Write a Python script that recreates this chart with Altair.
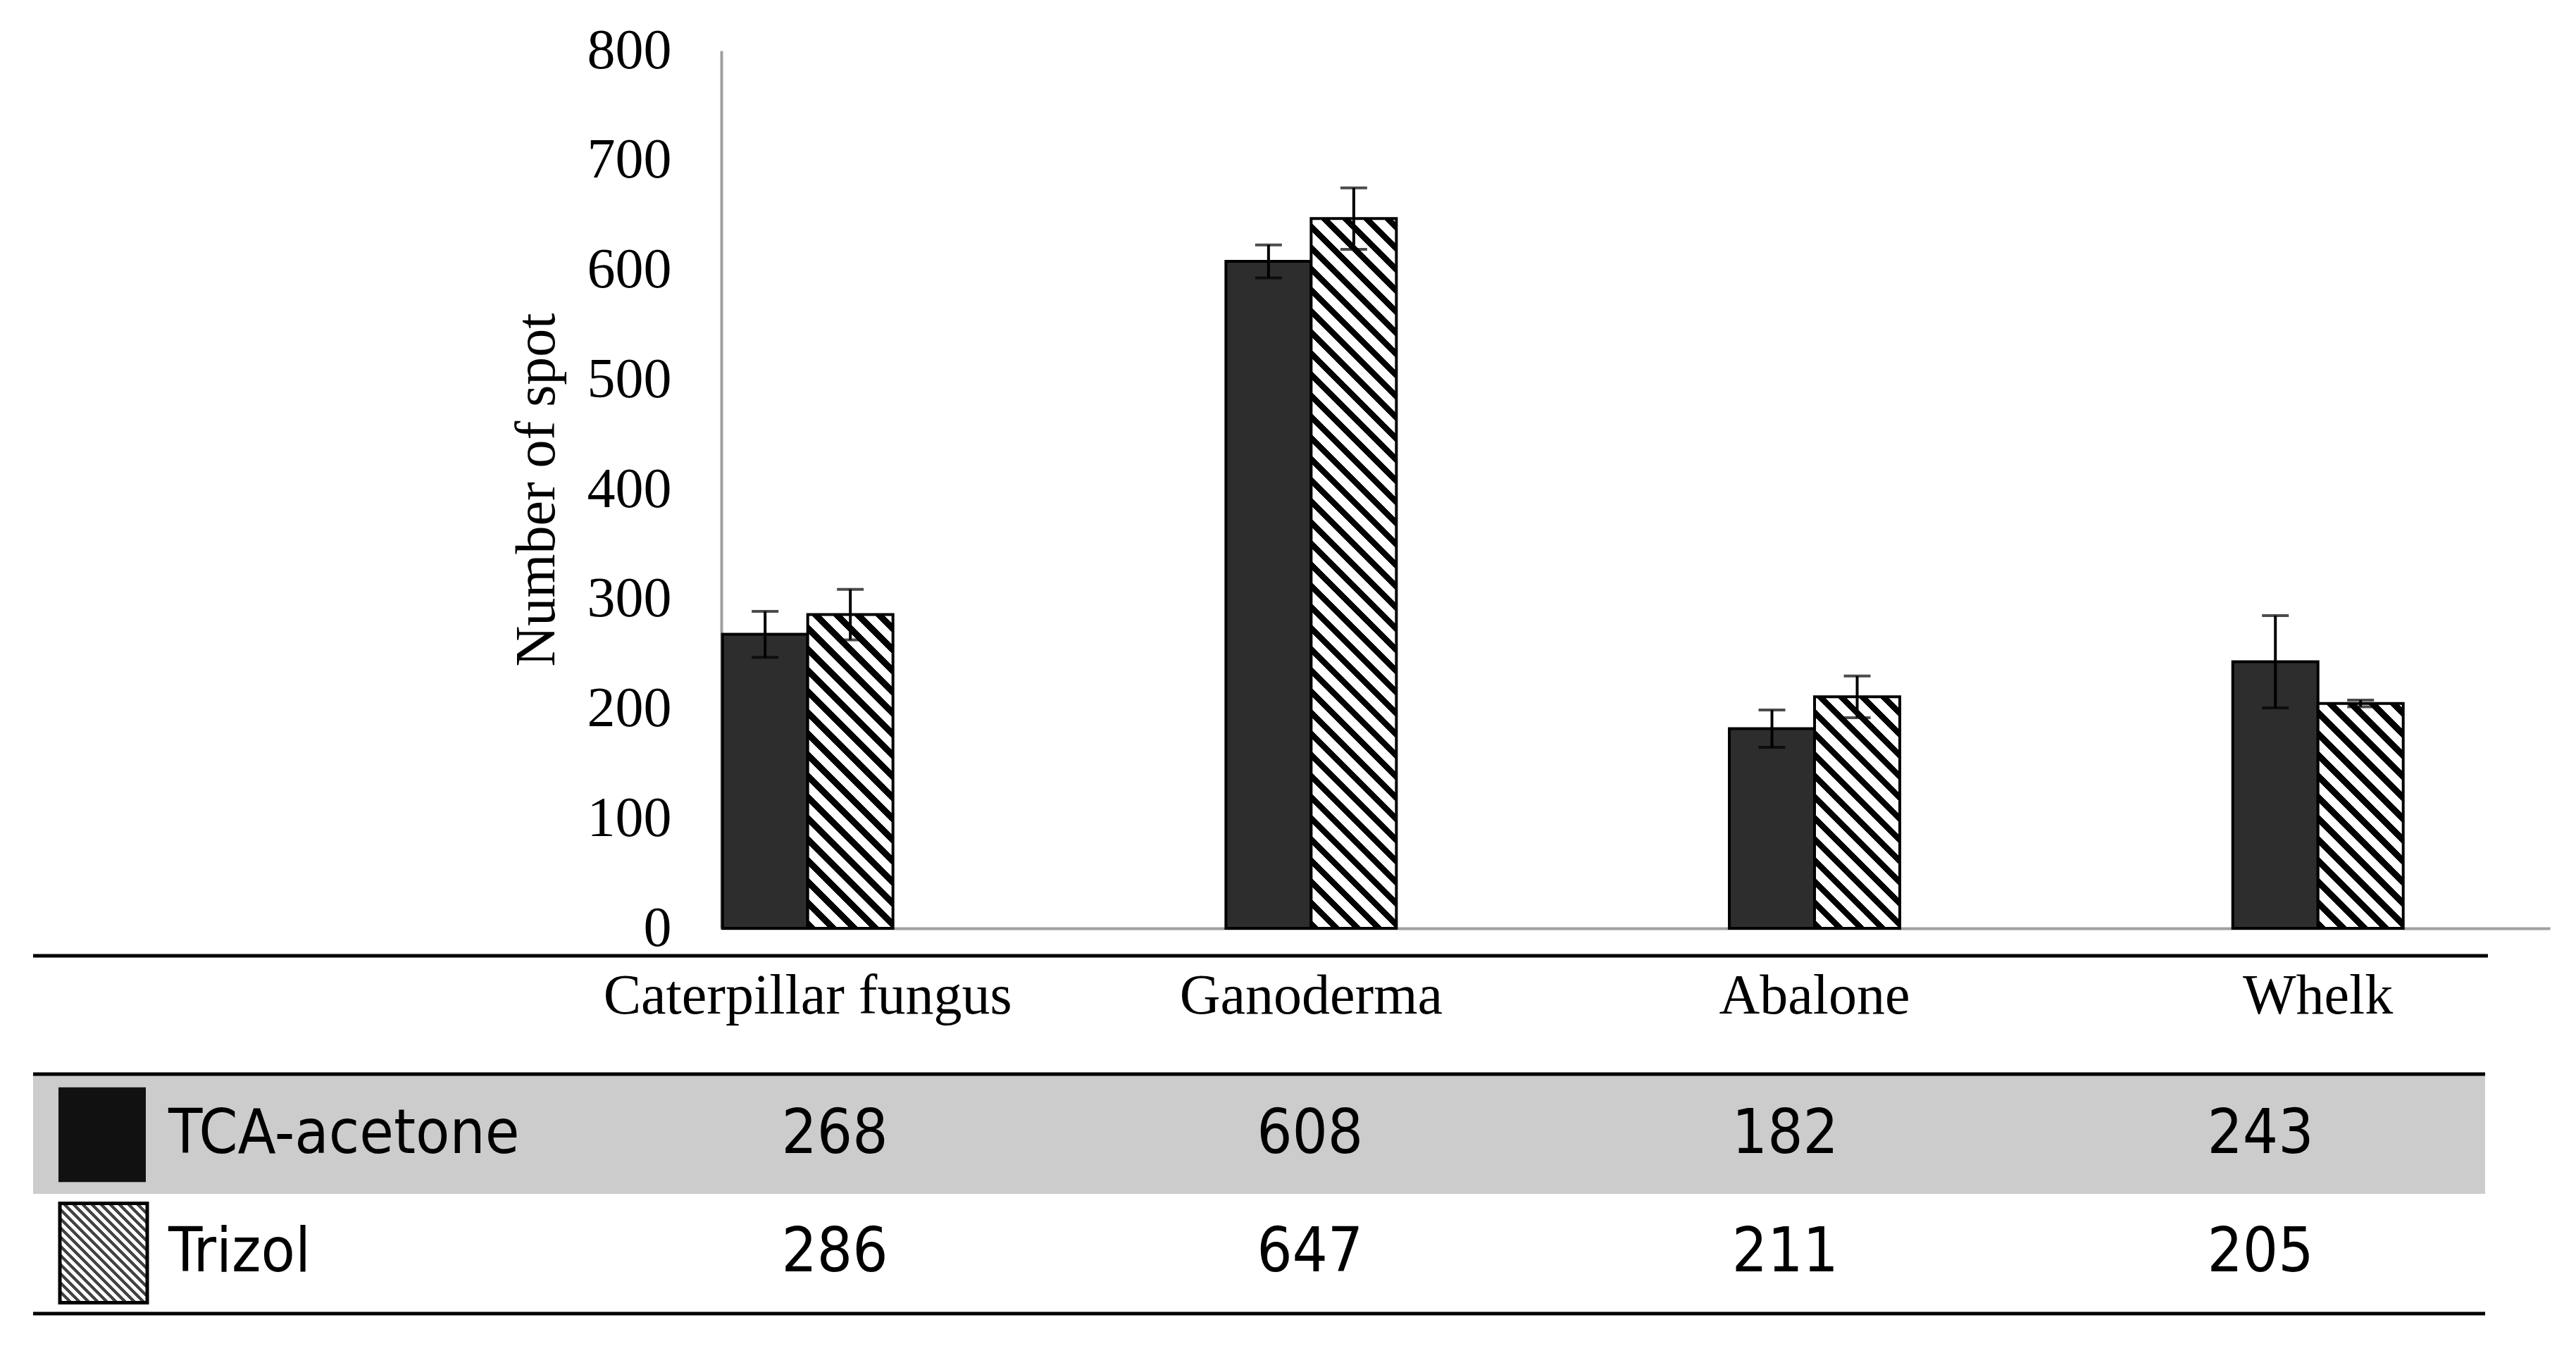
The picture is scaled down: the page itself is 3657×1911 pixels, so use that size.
import math
import altair as alt
import pandas as pd

# ---------------- data ----------------
categories = ["Caterpillar fungus", "Ganoderma", "Abalone", "Whelk"]
series_names = ["TCA-acetone", "Trizol"]
tca_values = [268, 608, 182, 243]
trizol_values = [286, 647, 211, 205]
tca_errors = [21, 15, 17, 42]
trizol_errors = [23, 28, 19, 3]
y_ticks = [0, 100, 200, 300, 400, 500, 600, 700, 800]
y_title = "Number of spot"

# ---------------- layout / style ----------------
W, H = 2596, 1246
Y_MAX = 800
PAD_INNER, PAD_OUTER, ALIGN = 0.6614, 0.1469, 0.008
SERIF = "Liberation Serif, Times New Roman, serif"
SANS = "Liberation Sans Narrow, Arial Narrow, DejaVu Sans Condensed, sans-serif"
AXIS_GRAY = "#a0a0a0"
TABLE_FONT_SIZE = 88

step = W / (len(categories) - PAD_INNER + 2 * PAD_OUTER)
bar_w = step * (1 - PAD_INNER) / 2


def stripe_gradient(w, h, period, frac, color):
    total = w + h
    pt = period / total
    denom = w * w + h * h
    x2 = w * total / denom
    y2 = 1 - h * total / denom
    stops = []
    k = 0
    while k * pt < 1:
        a = k * pt
        b = min(a + frac * pt, 1.0)
        c = min(a + pt, 1.0)
        stops += [
            {"offset": round(a, 6), "color": color},
            {"offset": round(b, 6), "color": color},
            {"offset": round(b, 6), "color": "white"},
            {"offset": round(c, 6), "color": "white"},
        ]
        k += 1
    return {"gradient": "linear", "x1": 0, "y1": 1, "x2": x2, "y2": y2, "stops": stops}


rows = []
for i, c in enumerate(categories):
    rows.append({"category": c, "series": series_names[0], "value": tca_values[i], "err": tca_errors[i]})
    rows.append({"category": c, "series": series_names[1], "value": trizol_values[i], "err": trizol_errors[i]})
df = pd.DataFrame(rows)
df["lo"] = df["value"] - df["err"]
df["hi"] = df["value"] + df["err"]

x_enc = alt.X(
    "category:N",
    sort=categories,
    scale=alt.Scale(domain=categories, paddingInner=PAD_INNER, paddingOuter=PAD_OUTER, align=ALIGN),
    axis=alt.Axis(
        title=None, labelFont=SERIF, labelFontSize=80, labelColor="black", labelAngle=0,
        labelPadding=120, labelBaseline="alphabetic", labelLimit=2000, labelOverlap=False,
        ticks=False, tickSize=0, domainColor=AXIS_GRAY, domainWidth=4, grid=False,
    ),
)
xoff_enc = alt.XOffset("series:N", scale=alt.Scale(domain=series_names, paddingInner=0, paddingOuter=0))
y_scale = alt.Scale(domain=[0, Y_MAX], nice=False)
y_enc = alt.Y(
    "value:Q",
    scale=y_scale,
    axis=alt.Axis(
        values=y_ticks, title=y_title, titleFont=SERIF, titleFontSize=80, titleFontWeight="normal",
        titleColor="black", titlePadding=30, labelFont=SERIF, labelFontSize=80, labelColor="black",
        labelPadding=71, ticks=False, tickSize=0, domainColor=AXIS_GRAY, domainWidth=4, grid=False,
    ),
)

base = alt.Chart(df)

tca_bars = base.transform_filter(alt.datum.series == series_names[0]).mark_bar(
    fill="#2d2d2d", stroke="black", strokeWidth=4
).encode(x=x_enc, xOffset=xoff_enc, y=y_enc)

trizol_bars = []
for c, v in zip(categories, trizol_values):
    grad = stripe_gradient(bar_w, v / Y_MAX * H, 30, 0.42, "black")
    trizol_bars.append(
        base.transform_filter((alt.datum.series == series_names[1]) & (alt.datum.category == c))
        .mark_bar(fill=grad, stroke="black", strokeWidth=4)
        .encode(x=x_enc, xOffset=xoff_enc, y=y_enc)
    )

err_rule = base.mark_rule(color="black", strokeWidth=4).encode(
    x=x_enc, xOffset=xoff_enc, y=alt.Y("lo:Q", scale=y_scale), y2="hi:Q"
)
cap_hi = base.mark_tick(color="black", thickness=4, size=38).encode(
    x=x_enc, xOffset=xoff_enc, y=alt.Y("hi:Q", scale=y_scale)
)
cap_lo = base.mark_tick(color="black", thickness=4, size=38).encode(
    x=x_enc, xOffset=xoff_enc, y=alt.Y("lo:Q", scale=y_scale)
)

bars_layer = alt.layer(tca_bars, *trizol_bars, err_rule, cap_hi, cap_lo)

# ---------------- data table below ----------------
table_x = alt.X("category:N", sort=categories,
                scale=alt.Scale(type="point", domain=categories, range=[161, 2185], padding=0), axis=None)
table_y = alt.Y("series:N", sort=series_names,
                scale=alt.Scale(type="band", domain=series_names, range=[1455, 1791], paddingInner=0, paddingOuter=0),
                axis=None)

tbl = alt.Chart(df)
series_df = pd.DataFrame({"series": series_names})

row_bg = alt.Chart(series_df).transform_filter(alt.datum.series == series_names[0]).mark_rect(
    color="#cccccc"
).encode(y=table_y, x=alt.value(-977), x2=alt.value(2504))

sw_tca = alt.Chart(series_df).transform_filter(alt.datum.series == series_names[0]).mark_bar(
    fill="#111111", height=alt.RelativeBandSize(0.8)
).encode(y=table_y, x=alt.value(-941), x2=alt.value(-817))

sw_trizol = alt.Chart(series_df).transform_filter(alt.datum.series == series_names[1]).mark_bar(
    fill=stripe_gradient(124, 0.84 * 168, 13, 0.45, "#444444"), stroke="black", strokeWidth=5,
    height=alt.RelativeBandSize(0.84)
).encode(y=table_y, x=alt.value(-939), x2=alt.value(-815))

row_labels = alt.Chart(series_df).mark_text(
    align="left", baseline="middle", font=SANS, fontSize=TABLE_FONT_SIZE, color="black"
).encode(y=table_y, x=alt.value(-785), text="series:N")

numbers = tbl.mark_text(
    align="center", baseline="middle", font=SANS, fontSize=TABLE_FONT_SIZE, color="black"
).encode(x=table_x, y=table_y, text="value:Q")

line_df = pd.DataFrame({"k": [0]})
rule_axis = alt.Chart(line_df).mark_rule(color="black", strokeWidth=5).encode(
    x=alt.value(-977), x2=alt.value(2508), y=alt.value(1285))
rule_top = alt.Chart(line_df).mark_rule(color="black", strokeWidth=5).encode(
    x=alt.value(-977), x2=alt.value(2504), y=alt.value(1453))
rule_bottom = alt.Chart(line_df).mark_rule(color="black", strokeWidth=5).encode(
    x=alt.value(-977), x2=alt.value(2504), y=alt.value(1793))

table_layer = alt.layer(row_bg, sw_tca, sw_trizol, row_labels, numbers, rule_axis, rule_top, rule_bottom)

chart = (
    alt.layer(bars_layer, table_layer)
    .resolve_scale(x="independent", y="independent")
    .properties(
        width=W, height=H,
        padding={"left": 1016, "top": 64, "right": 20, "bottom": 570},
        autosize=alt.AutoSizeParams(type="none"),
        background="white",
    )
    .configure_view(stroke=None)
)

chart.save("out.html", embed_options={"renderer": "svg", "actions": False})
